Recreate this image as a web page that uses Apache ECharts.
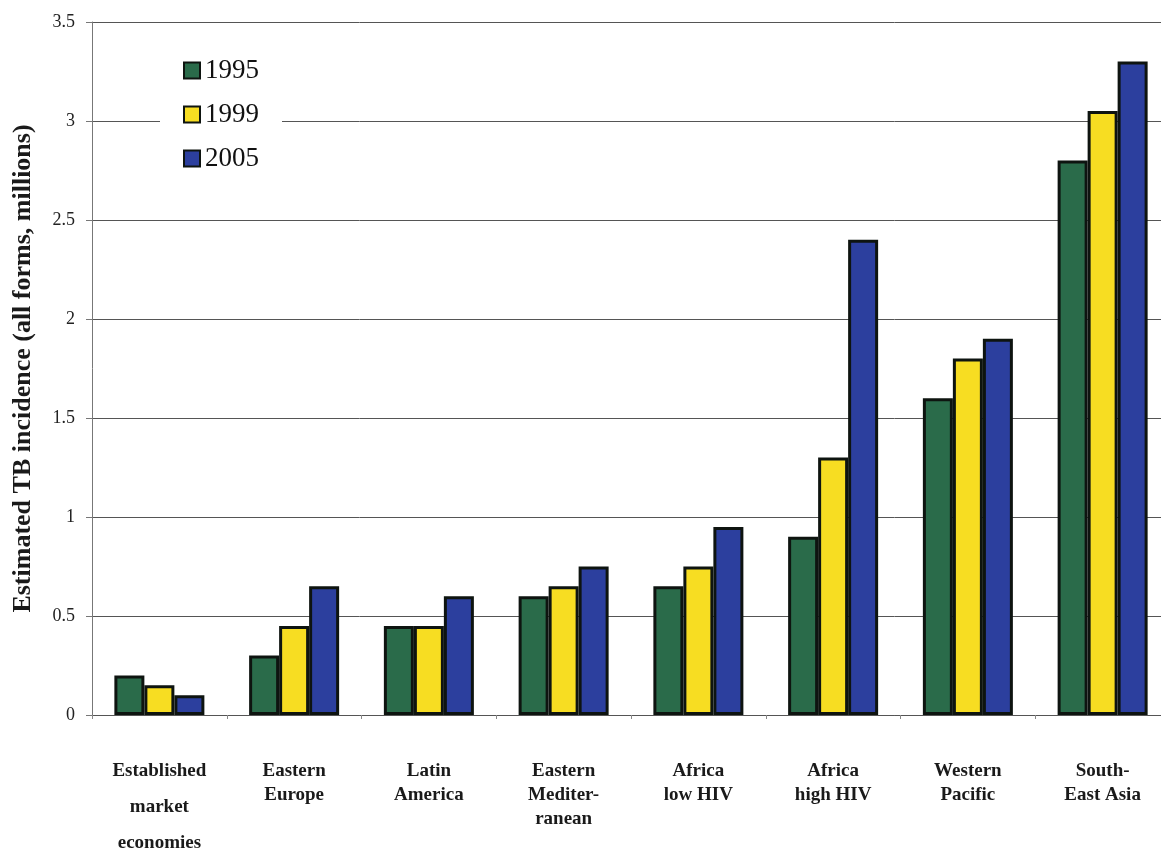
<!DOCTYPE html>
<html>
<head>
<meta charset="utf-8">
<script src="https://cdn.jsdelivr.net/npm/echarts@6/dist/echarts.min.js"></script>
<style>
  html, body { margin: 0; padding: 0; background: #fff; }
  #chart { width: 1161px; height: 850px; }
</style>
</head>
<body>
<div id="chart"></div>
<script>
// Estimated TB incidence by WHO region, all forms (millions)
const regions = [
  'Established\nmarket\neconomies',
  'Eastern\nEurope',
  'Latin\nAmerica',
  'Eastern\nMediter-\nranean',
  'Africa\nlow HIV',
  'Africa\nhigh HIV',
  'Western\nPacific',
  'South-\nEast Asia'
];
const years = ['1995', '1999', '2005'];
const values1995 = [0.20, 0.30, 0.45, 0.60, 0.65, 0.90, 1.60, 2.80];
const values1999 = [0.15, 0.45, 0.45, 0.65, 0.75, 1.30, 1.80, 3.05];
const values2005 = [0.10, 0.65, 0.60, 0.75, 0.95, 2.40, 1.90, 3.30];
const yTicks = ['0', '0.5', '1', '1.5', '2', '2.5', '3', '3.5'];

const seriesValues = [values1995, values1999, values2005];
const seriesColors = ['#2a6b4a', '#f7dd22', '#2c3f9e'];
const serif = '"Liberation Serif", "DejaVu Serif", serif';
const labelFont = { fontFamily: serif, fontSize: 19, fontWeight: 'bold', color: '#1a1a1a' };

const chart = echarts.init(document.getElementById('chart'), null, { renderer: 'canvas' });

chart.setOption({
  backgroundColor: '#ffffff',
  animation: false,
  grid: { left: 92, right: -9, top: 22, bottom: 135, containLabel: false, outerBoundsMode: 'none' },
  legend: {
    orient: 'vertical',
    left: 160,
    top: 43,
    backgroundColor: '#ffffff',
    padding: [14, 23, 14, 23],
    itemWidth: 16,
    itemHeight: 16,
    itemGap: 17,
    icon: 'rect',
    data: years,
    textStyle: { fontFamily: serif, fontSize: 27, lineHeight: 27, color: '#111' }
  },
  xAxis: {
    type: 'category',
    data: regions,
    axisLine: { lineStyle: { color: '#555', width: 1 } },
    axisTick: { show: true, length: 4, lineStyle: { color: '#888' } },
    axisLabel: Object.assign({
      interval: 0,
      margin: 44,
      lineHeight: 24,
      // the first category is set with wider line spacing
      formatter: function (value, idx) {
        if (idx === 0) {
          const parts = value.split('\n');
          return '{a|' + parts[0] + '}\n{b|' + parts[1] + '}\n{a|' + parts[2] + '}';
        }
        return value;
      },
      rich: {
        a: Object.assign({ lineHeight: 24 }, labelFont),
        b: Object.assign({ lineHeight: 48 }, labelFont)
      }
    }, labelFont)
  },
  yAxis: {
    type: 'value',
    min: 0,
    max: 3.5,
    interval: 0.5,
    name: 'Estimated TB incidence (all forms, millions)',
    nameLocation: 'middle',
    nameGap: 56,
    nameTextStyle: { fontFamily: serif, fontSize: 26, fontWeight: 'bold', color: '#1a1a1a' },
    axisLine: { show: true, lineStyle: { color: '#777', width: 1 } },
    axisTick: { show: true, length: 6, lineStyle: { color: '#777' } },
    splitLine: { show: true, lineStyle: { color: '#555', width: 1 } },
    axisLabel: {
      margin: 17,
      fontFamily: serif,
      fontSize: 18,
      color: '#222',
      formatter: function (v) { return yTicks[Math.round(v / 0.5)]; }
    }
  },
  series: years.map(function (y, i) {
    return {
      name: y,
      type: 'bar',
      data: seriesValues[i],
      barWidth: 30,
      barGap: '0%',
      itemStyle: {
        color: seriesColors[i],
        borderColor: '#0e1410',
        borderWidth: 3
      }
    };
  })
});
</script>
</body>
</html>
